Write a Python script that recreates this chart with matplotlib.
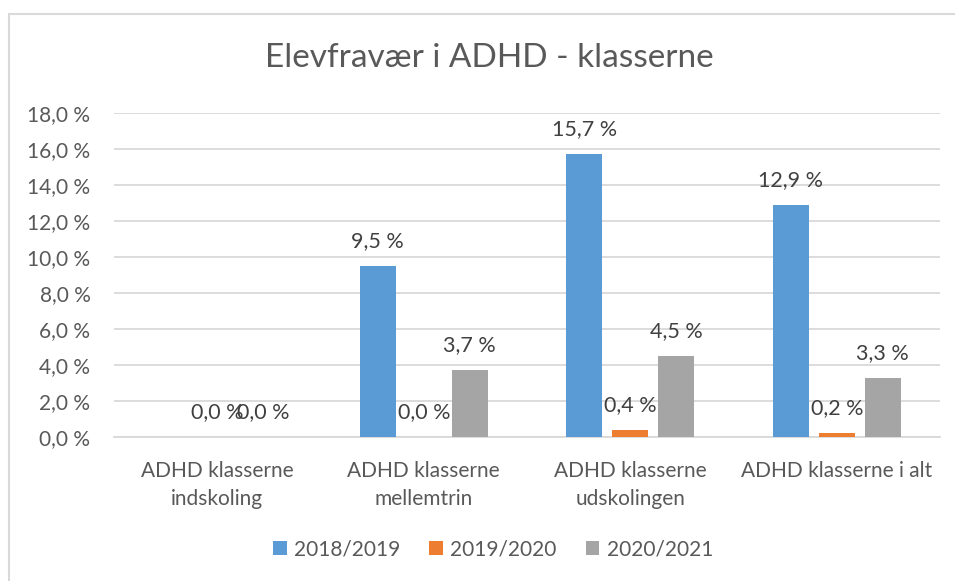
import numpy as np
import matplotlib
matplotlib.use("Agg")
import matplotlib.pyplot as plt
from matplotlib.patches import Rectangle

# --- data ---
kategorier = ["ADHD klasserne\nindskoling", "ADHD klasserne\nmellemtrin",
              "ADHD klasserne\nudskolingen", "ADHD klasserne i alt"]
serier = ["2018/2019", "2019/2020", "2020/2021"]
v_2018 = [np.nan, 9.5, 15.7, 12.9]
v_2019 = [0.0, 0.0, 0.4, 0.2]
v_2020 = [0.0, 3.7, 4.5, 3.3]
yticks = [0, 2, 4, 6, 8, 10, 12, 14, 16, 18]

farver = ["#5B9BD5", "#ED7D31", "#A5A5A5"]
tekst = "#595959"

plt.rcParams["font.family"] = ["Lato", "DejaVu Sans"]

fig = plt.figure(figsize=(9.55, 5.81), dpi=100)
# chart border (cut off at right/bottom like the screenshot)
fig.patches.append(Rectangle((9 / 955, -0.1), 1.2, 1 - 14 / 581 + 0.1,
                             transform=fig.transFigure, fill=False,
                             edgecolor="#D9D9D9", linewidth=1.5))

ax = fig.add_axes([114 / 955, 1 - 437 / 581, (940 - 114) / 955, (437 - 113) / 581])

x = np.arange(len(kategorier))
bredde = 0.174
offset = 0.223
for i, (navn, vals) in enumerate(zip(serier, [v_2018, v_2019, v_2020])):
    pos = x + (i - 1) * offset
    ax.bar(pos, vals, width=bredde, color=farver[i], label=navn, zorder=3)
    for p, v in zip(pos, vals):
        if np.isnan(v):
            continue
        ax.annotate(f"{v:.1f} %".replace(".", ","), (p, v), xytext=(0, 18),
                    textcoords="offset points", ha="center", va="center",
                    fontsize=15.5, color="#404040", zorder=4)

ax.set_xlim(-0.5, len(kategorier) - 0.5)
ax.set_ylim(0, 18)
ax.set_yticks(yticks)
ax.set_yticklabels([f"{t:.1f} %".replace(".", ",") for t in yticks])
ax.set_xticks(x)
ax.set_xticklabels(kategorier, linespacing=1.5)
ax.tick_params(axis="y", length=0, pad=17, labelsize=15, labelcolor=tekst)
ax.tick_params(axis="x", length=0, pad=17, labelsize=15, labelcolor=tekst)
ax.grid(axis="y", color="#D9D9D9", linewidth=1.3, zorder=0)
for s in ["top", "right", "left"]:
    ax.spines[s].set_visible(False)
ax.spines["bottom"].set_color("#D9D9D9")
ax.spines["bottom"].set_linewidth(1.3)

fig.text(489 / 955, 1 - 58 / 581, "Elevfravær i ADHD - klasserne", ha="center",
         va="center", fontsize=24, color=tekst)

fig.legend(loc="center", bbox_to_anchor=(493 / 955, 1 - 549 / 581), ncol=3,
           frameon=False, fontsize=15, labelcolor=tekst, handlelength=0.65,
           handleheight=0.65, handletextpad=0.35, columnspacing=1.4)

fig.savefig("out.png", dpi=100)
